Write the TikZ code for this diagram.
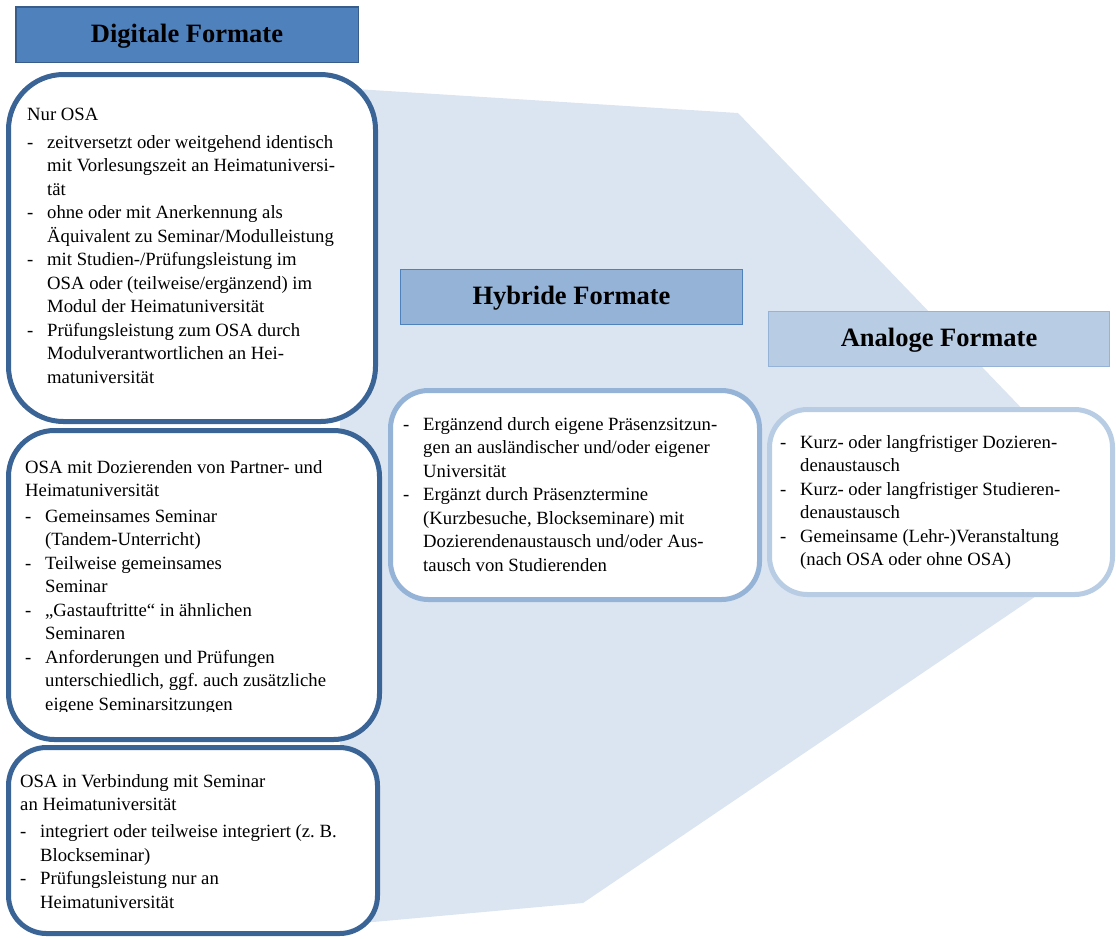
\documentclass[tikz,border=0pt]{standalone}
\usepackage{fontspec}
\setmainfont{Liberation Serif}
\definecolor{polyfill}{HTML}{DBE5F1}
\definecolor{darkline}{HTML}{3B6496}
\definecolor{hOnefill}{HTML}{4F81BD}
\definecolor{hOneline}{HTML}{385D8A}
\definecolor{hTwofill}{HTML}{95B3D7}
\definecolor{hTwoline}{HTML}{4F81BD}
\definecolor{hThreefill}{HTML}{B8CCE4}
\definecolor{hThreeline}{HTML}{95B3D7}
\newcommand{\lidash}{\makebox[20pt][l]{-}}
\newcommand{\licont}{\hspace*{20pt}}
\frenchspacing
\tikzset{
  hdr/.style={draw, line width=1.5pt, inner sep=0pt,
    font=\fontsize{26.5}{30}\selectfont\bfseries, text height=18pt, text depth=3pt},
  card/.style={draw, fill=white, line width=5pt, inner sep=0pt},
  txt/.style={inner sep=0pt, anchor=base west, font=\fontsize{18.7}{23.5}\selectfont}
}
\begin{document}
\begin{tikzpicture}[x=1pt,y=-1pt]
\useasboundingbox (0,0) rectangle (1116,938);
% background shape
\fill[polyfill] (340,88) -- (738,113) -- (1105,495) -- (1045,590) -- (583,903) -- (340,925) -- cycle;

% headers
\node[hdr, fill=hOnefill, draw=hOneline, minimum width=342.5pt, minimum height=55.5pt] (h1) at (187,34.5) {Digitale Formate};
\node[hdr, fill=hTwofill, draw=hTwoline, minimum width=342pt, minimum height=55pt] (h2) at (571.5,297) {Hybride Formate};
\node[hdr, fill=hThreefill, draw=hThreeline, minimum width=341pt, minimum height=55pt] (h3) at (939,339) {Analoge Formate};

% digital boxes
\node[card, draw=darkline, rounded corners=55pt, minimum width=367pt, minimum height=347pt] (b1) at (192,248) {};
\node[card, draw=darkline, rounded corners=46pt, minimum width=371pt, minimum height=309pt] (b2) at (194,585) {};
\node[card, draw=darkline, rounded corners=38pt, minimum width=369pt, minimum height=186pt] (b3) at (193,840.5) {};

% hybrid & analog boxes
\node[card, draw=hTwofill, rounded corners=38pt, minimum width=369pt, minimum height=209pt] (b4) at (575,495) {};
\node[card, draw=hThreefill, rounded corners=38pt, minimum width=343pt, minimum height=185pt] (b5) at (941,502) {};

% texts
\node[txt] (t1) at (27,120) {\parbox[t]{360pt}{\raggedright
Nur OSA\\[4.5pt]
\lidash zeitversetzt oder weitgehend identisch\\
\licont mit Vorlesungszeit an Heimatuniversi-\\
\licont tät\\
\lidash ohne oder mit Anerkennung als\\
\licont Äquivalent zu Seminar/Modulleistung\\
\lidash mit Studien-/Prüfungsleistung im\\
\licont OSA oder (teilweise/ergänzend) im\\
\licont Modul der Heimatuniversität\\
\lidash Prüfungsleistung zum OSA durch\\
\licont Modulverantwortlichen an Hei-\\
\licont matuniversität}};

\begin{scope}
\clip (0,430) rectangle (400,711);
\node[txt] (t2) at (25,473) {\parbox[t]{380pt}{\raggedright
OSA mit Dozierenden von Partner- und\\
Heimatuniversität\\[2pt]
\lidash Gemeinsames Seminar\\
\licont (Tandem-Unterricht)\\
\lidash Teilweise gemeinsames\\
\licont Seminar\\
\lidash „Gastauftritte“ in ähnlichen\\
\licont Seminaren\\
\lidash Anforderungen und Prüfungen\\
\licont unterschiedlich, ggf. auch zusätzliche\\
\licont eigene Seminarsitzungen}};
\end{scope}

\node[txt] (t3) at (20,787) {\parbox[t]{380pt}{\raggedright
OSA in Verbindung mit Seminar\\
an Heimatuniversität\\[3.5pt]
\lidash integriert oder teilweise integriert (z. B.\\
\licont Blockseminar)\\
\lidash Prüfungsleistung nur an\\
\licont Heimatuniversität}};

\node[txt] (t4) at (403,430) {\parbox[t]{380pt}{\raggedright
\lidash Ergänzend durch eigene Präsenzsitzun-\\
\licont gen an ausländischer und/oder eigener\\
\licont Universität\\
\lidash Ergänzt durch Präsenztermine\\
\licont (Kurzbesuche, Blockseminare) mit\\
\licont Dozierendenaustausch und/oder Aus-\\
\licont tausch von Studierenden}};

\node[txt] (t5) at (780,448) {\parbox[t]{380pt}{\raggedright
\lidash Kurz- oder langfristiger Dozieren-\\
\licont denaustausch\\
\lidash Kurz- oder langfristiger Studieren-\\
\licont denaustausch\\
\lidash Gemeinsame (Lehr-)Veranstaltung\\
\licont (nach OSA oder ohne OSA)}};
\end{tikzpicture}
\end{document}
